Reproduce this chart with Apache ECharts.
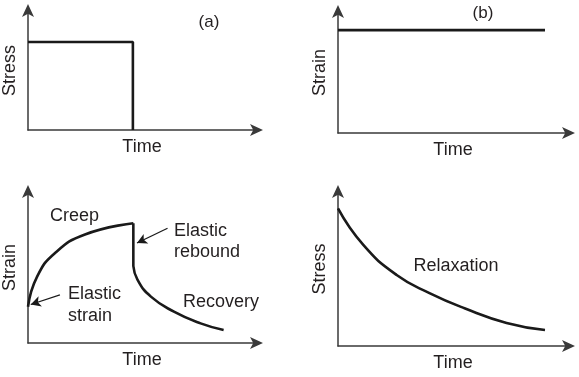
<!DOCTYPE html>
<html><head><meta charset="utf-8">
<script src="https://cdn.jsdelivr.net/npm/echarts@6/dist/echarts.min.js"></script>
<style>html,body{margin:0;padding:0;background:#fff}#c{width:579px;height:377px}</style>
</head><body><div id="c"></div>
<script>
// Panel (a): constant stress applied then removed
const stressStep = [[0, 7.4], [4.6, 7.4], [4.6, 0]];
// Panel (b): constant strain
const strainConst = [[0, 8.5], [9.0, 8.5]];
// Panel (c): creep, elastic rebound, recovery
const creepRise = [[0, 2.40], [0.40, 4.40], [1.20, 5.98], [2.50, 7.19], [4.62, 7.93]];
const rebound = [[4.62, 7.93], [4.62, 5.10]];
const recovery = [[4.62, 5.10], [4.80, 4.20], [5.39, 3.07], [6.40, 2.08], [7.57, 1.30], [8.58, 0.86]];
// Panel (d): stress relaxation
const relaxation = [[0, 8.93], [1.10, 6.56], [2.55, 4.61], [4.00, 3.42], [5.50, 2.45], [7.33, 1.50], [9.00, 1.04]];
// annotation arrows (data coords in panel c): [from, to]
const arrowRebound = [[6.12, 7.60], [4.78, 6.62]];
const arrowElastic = [[1.40, 3.18], [0.12, 2.55]];
const axisTitles = [["Time", "Stress"], ["Time", "Strain"], ["Time", "Strain"], ["Time", "Stress"]];

const FONT = "'Liberation Sans', Arial, sans-serif";
const TXT = '#231f20';
const FS = 18;
const grids = [
  {left: 26, top: 11, width: 230, height: 119},
  {left: 338, top: 12, width: 230, height: 121},
  {left: 26, top: 192, width: 230, height: 151},
  {left: 338, top: 192, width: 230, height: 154}
];
function axisBase(i, isX) {
  return {
    type: 'value', gridIndex: i, min: 0, max: 10,
    name: isX ? axisTitles[i][0] : axisTitles[i][1],
    nameLocation: 'middle', nameGap: isX ? 8 : 9,
    nameTextStyle: {fontFamily: FONT, fontSize: FS, color: TXT, verticalAlign: isX ? 'top' : 'bottom'},
    axisLine: {show: true, onZero: false, symbol: ['none', 'arrow'], symbolSize: [9, 13], symbolOffset: [0, 7], lineStyle: {color: '#3a3a3a', width: 1.5}},
    axisTick: {show: false}, axisLabel: {show: false}, splitLine: {show: false}
  };
}
const lineStyle = {color: '#1a1a1a', width: 2.6};
function ser(i, data, smooth, extra) {
  return Object.assign({type: 'line', xAxisIndex: i, yAxisIndex: i, data: data, smooth: smooth, showSymbol: false, symbol: 'none', lineStyle: lineStyle, silent: true, animation: false}, extra || {});
}
function arrowML(a, curv) {
  return {markLine: {silent: true, animation: false, symbol: ['none', 'arrow'], symbolSize: [8, 10], label: {show: false},
    lineStyle: {color: '#1a1a1a', width: 1.3, type: 'solid', curveness: curv},
    data: [[{coord: a[0]}, {coord: a[1]}]]}};
}
const chart = echarts.init(document.getElementById('c'), null, {renderer: 'canvas'});
const txt = (t, x, y, align, fs) => ({type: 'text', x: x, y: y, style: {text: t, fontFamily: FONT, fontSize: fs || FS, fill: TXT, align: align || 'left', verticalAlign: 'middle', lineHeight: 21.5}});
chart.setOption({
  animation: false,
  grid: grids,
  xAxis: [0, 1, 2, 3].map(i => axisBase(i, true)),
  yAxis: [0, 1, 2, 3].map(i => axisBase(i, false)),
  series: [
    ser(0, stressStep, false),
    ser(1, strainConst, false),
    ser(2, creepRise, 0.5, arrowML(arrowElastic, -0.25)),
    ser(2, rebound, false, arrowML(arrowRebound, -0.25)),
    ser(2, recovery, 0.5),
    ser(3, relaxation, 0.5)
  ],
  graphic: [
    txt('(a)', 209, 22, 'center', 17),
    txt('(b)', 483, 13, 'center', 17),
    txt('Creep', 50, 216),
    txt('Elastic\nrebound', 174, 241.5),
    txt('Elastic\nstrain', 68, 305),
    txt('Recovery', 183, 302),
    txt('Relaxation', 456, 266, 'center')
  ]
});
</script></body></html>
